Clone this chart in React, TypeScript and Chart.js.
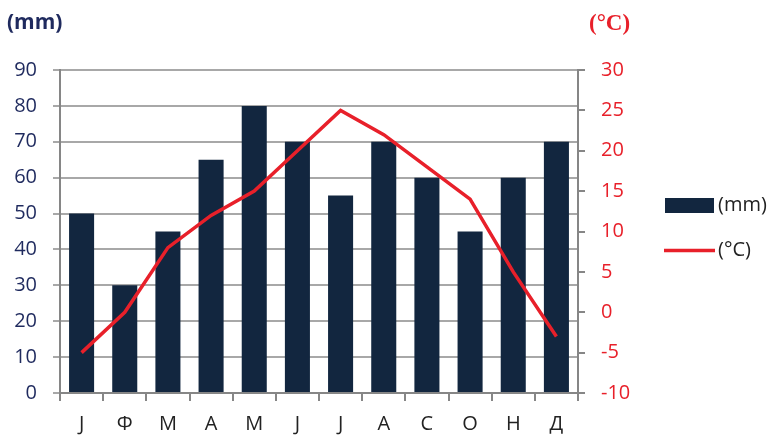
import React, { useEffect, useRef } from "react";
import { Chart, registerables } from "chart.js";

Chart.register(...registerables);

const months = ["J", "Ф", "M", "A", "M", "J", "J", "A", "C", "O", "H", "Д"];
const precipitation = [50, 30, 45, 65, 80, 70, 55, 70, 60, 45, 60, 70];
const temperature = [-5, 0, 8, 12, 15, 20, 25, 22, 18, 14, 5, -3];
const leftTitle = "(mm)";
const rightTitle = "(°C)";
const seriesNames = ["(mm)", "(°C)"];

const NAVY = "#12263f";
const RED = "#e8202a";
const AXIS = "#868686";
const GRID = "#a8a8a8";
const FONT = "'Open Sans', sans-serif";

const overlay = {
  id: "overlay",
  afterDraw(chart: any) {
    const ctx = chart.ctx;
    ctx.save();
    ctx.textBaseline = "middle";
    ctx.textAlign = "left";
    ctx.fillStyle = "#1f2a5e";
    ctx.font = `bold 21px ${FONT}`;
    ctx.fillText(leftTitle, 7, 23);
    ctx.fillStyle = RED;
    ctx.font = `bold 23px 'Liberation Serif', serif`;
    ctx.fillText(rightTitle, 589, 24);

    // legend
    ctx.fillStyle = NAVY;
    ctx.fillRect(665, 198, 49, 15);
    ctx.strokeStyle = RED;
    ctx.lineWidth = 3.5;
    ctx.beginPath();
    ctx.moveTo(664, 250.5);
    ctx.lineTo(715, 250.5);
    ctx.stroke();
    ctx.fillStyle = "#222222";
    ctx.font = `20px ${FONT}`;
    ctx.fillText(seriesNames[0], 718, 205);
    ctx.fillText(seriesNames[1], 718, 250);
    ctx.restore();
  },
};

export default function App() {
  const ref = useRef<HTMLCanvasElement>(null);
  useEffect(() => {
    document.body.style.margin = "0";
    const chart = new Chart(ref.current!, {
      type: "bar",
      data: {
        labels: months,
        datasets: [
          {
            type: "line",
            label: seriesNames[1],
            data: temperature,
            yAxisID: "y1",
            borderColor: RED,
            borderWidth: 3.5,
            pointRadius: 0,
            tension: 0,
            order: 0,
          } as any,
          {
            type: "bar",
            label: seriesNames[0],
            data: precipitation,
            yAxisID: "y",
            backgroundColor: NAVY,
            barPercentage: 0.58,
            categoryPercentage: 1,
            order: 1,
          },
        ],
      },
      options: {
        responsive: false,
        animation: false,
        layout: { padding: { top: 70, left: 0, right: 0, bottom: 0 } },
        plugins: { legend: { display: false }, tooltip: { enabled: false } },
        scales: {
          x: {
            offset: true,
            grid: {
              offset: true,
              drawOnChartArea: false,
              drawTicks: true,
              tickLength: 8,
              color: AXIS,
              lineWidth: 2,
            },
            border: { color: AXIS, width: 2 },
            ticks: { color: "#222222", font: { family: FONT, size: 20 }, padding: 11 },
            afterFit(s: any) {
              s.height = 44;
            },
          },
          y: {
            position: "left",
            min: 0,
            max: 90,
            ticks: { stepSize: 10, color: "#1f2a5e", font: { family: FONT, size: 20 }, padding: 16 },
            grid: { color: GRID, lineWidth: 2, tickLength: 7 },
            border: { color: AXIS, width: 2 },
            afterFit(s: any) {
              s.width = 60;
            },
          },
          y1: {
            position: "right",
            min: -10,
            max: 30,
            ticks: { stepSize: 5, color: RED, font: { family: FONT, size: 20 }, padding: 16 },
            grid: { drawOnChartArea: false, color: AXIS, lineWidth: 2, tickLength: 7 },
            border: { color: AXIS, width: 2 },
            afterFit(s: any) {
              s.width = 196;
            },
          },
        },
      },
      plugins: [overlay],
    });
    return () => chart.destroy();
  }, []);
  return <canvas ref={ref} width={774} height={437} style={{ display: "block" }} />;
}
